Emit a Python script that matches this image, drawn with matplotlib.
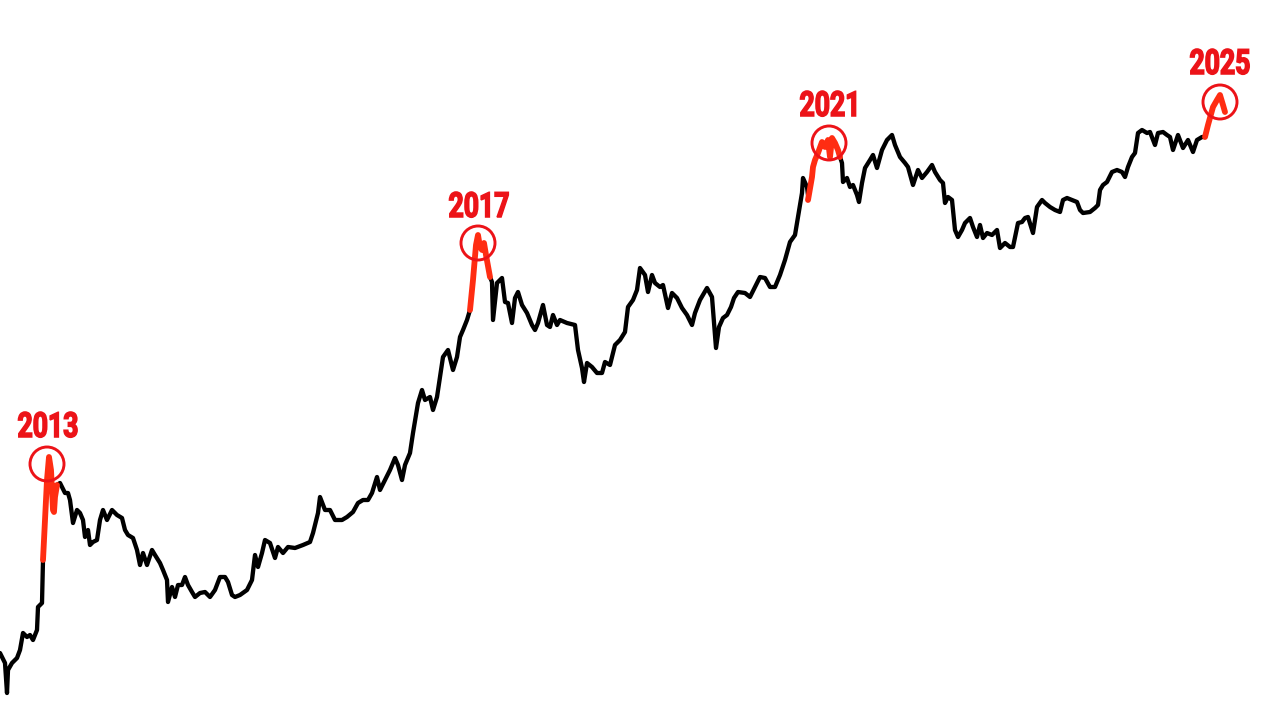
import matplotlib
matplotlib.use("Agg")
import matplotlib.pyplot as plt
from matplotlib.patches import Circle
from matplotlib.patheffects import AbstractPathEffect
from matplotlib.transforms import Affine2D

# ---- data (x = time position, y = screen level, smaller = higher price) ----
x_black1 = [0, 2, 5, 7, 8, 12, 17, 20, 23, 27, 30, 33, 37, 38, 42, 43]
y_black1 = [653, 657, 663, 693, 670, 663, 658, 650, 633, 637, 635, 640, 630, 607, 603, 560]

x_red2013 = [43, 45, 47, 49, 51, 53, 54, 55, 57]
y_red2013 = [560, 520, 480, 457, 470, 510, 512, 497, 485]

x_black2 = [57, 60, 65, 68, 70, 73, 77, 80, 83, 85, 88, 90, 93, 97, 100, 103, 107, 112, 117, 122,
            125, 128, 133, 137, 140, 143, 147, 152, 155, 160, 163, 167, 168, 172, 175, 178, 182, 185,
            188, 192, 195, 200, 205, 210, 215, 220, 225, 228, 232, 235, 240, 247, 252, 255, 258, 262,
            265, 270, 275, 278, 283, 288, 295, 303, 310, 313, 318, 320, 325, 330, 335, 342, 347, 353,
            358, 363, 368, 372, 377, 380, 385, 390, 395, 398, 402, 405, 410, 413, 418, 422, 425, 430,
            433, 437, 440, 443, 448, 453, 457, 460, 463, 467, 470]
y_black2 = [485, 483, 493, 493, 500, 523, 510, 513, 520, 537, 530, 545, 542, 540, 520, 510, 520, 510, 515, 518,
            530, 535, 538, 550, 565, 553, 565, 550, 555, 563, 570, 580, 602, 587, 597, 585, 585, 577,
            585, 592, 597, 593, 592, 597, 590, 577, 577, 582, 595, 597, 595, 590, 580, 555, 567, 553,
            540, 543, 558, 547, 553, 547, 548, 545, 542, 533, 513, 497, 510, 510, 520, 520, 517, 512,
            503, 500, 500, 493, 477, 490, 480, 470, 458, 465, 480, 465, 453, 433, 403, 390, 400, 397,
            410, 397, 377, 357, 350, 370, 357, 337, 330, 320, 310]

x_red2017 = [470, 473, 476, 478, 480, 482, 484, 486, 490]
y_red2017 = [310, 280, 245, 235, 247, 250, 243, 255, 277]

x_black3 = [490, 492, 493, 497, 500, 502, 505, 508, 512, 515, 518, 522, 527, 532, 535, 538, 543, 547, 550,
            553, 557, 560, 567, 575, 578, 582, 584, 587, 592, 597, 602, 605, 610, 615, 620, 625, 628,
            633, 637, 640, 645, 648, 652, 655, 660, 663, 668, 672, 677, 682, 687, 692, 695, 700, 707,
            712, 716, 719, 723, 727, 731, 734, 738, 745, 750, 755, 760, 765, 770, 775, 780, 785, 790,
            795, 798, 802, 803, 807, 808]
y_black3 = [277, 282, 320, 283, 280, 278, 302, 303, 323, 298, 292, 305, 313, 325, 330, 323, 305, 325, 327,
            315, 325, 320, 323, 325, 350, 368, 382, 363, 367, 373, 373, 362, 365, 345, 340, 332, 307,
            300, 290, 268, 275, 292, 275, 283, 287, 285, 308, 293, 298, 308, 315, 325, 313, 300, 288,
            297, 348, 327, 318, 315, 307, 298, 292, 293, 297, 287, 277, 278, 287, 287, 275, 260, 242,
            235, 217, 193, 178, 187, 195]

x_red2021 = [808, 812, 813, 815, 818, 822, 825, 828, 830, 832, 835, 838, 840]
y_red2021 = [200, 177, 167, 160, 153, 142, 147, 140, 157, 138, 143, 150, 157]

x_black4 = [840, 842, 843, 847, 850, 853, 857, 859, 862, 865, 870, 873, 877, 882, 887, 892, 895, 900, 905,
            908, 913, 918, 922, 927, 932, 935, 940, 943, 945, 948, 952, 955, 958, 962, 965, 970, 973,
            977, 980, 983, 987, 992, 997, 1000, 1005, 1010, 1013, 1018, 1022, 1025, 1028, 1033, 1037,
            1042, 1045, 1050, 1055, 1060, 1063, 1067, 1072, 1077, 1080, 1083, 1090, 1095, 1098, 1100,
            1103, 1107, 1112, 1117, 1122, 1125, 1128, 1132, 1135, 1138, 1142, 1147, 1150, 1155, 1158,
            1163, 1167, 1170, 1173, 1178, 1183, 1188, 1193, 1197, 1202, 1205]
y_black4 = [157, 163, 182, 178, 187, 185, 195, 202, 183, 168, 160, 155, 168, 150, 140, 135, 145, 157, 163,
            167, 185, 170, 178, 172, 165, 172, 180, 183, 203, 197, 200, 230, 237, 230, 223, 218, 227,
            237, 225, 238, 233, 235, 230, 248, 243, 247, 247, 223, 222, 218, 217, 233, 207,
            200, 203, 207, 210, 212, 200, 198, 200, 202, 210, 213, 212, 208, 205, 190,
            185, 182, 172, 170, 172, 177, 167, 157, 153, 133, 130, 133, 132, 145, 133,
            132, 135, 137, 150, 135, 148, 140, 152, 140, 137, 137]

x_red2025 = [1205, 1208, 1213, 1217, 1220, 1223, 1225]
y_red2025 = [137, 125, 107, 100, 95, 105, 112]

peak_labels = ["2013", "2017", "2021", "2025"]
peak_x = [47, 478, 829, 1220]
peak_y = [464, 243, 143, 102]
label_x = [48, 479, 830, 1220]
label_baseline = [437, 217, 116, 74]
label_width = 61  # target rendered width of the labels (condensed face)

# ---- styling ----
BLACK = "#000000"
RED_LINE = "#ff2d12"
RED = "#ec1318"


class HCondense(AbstractPathEffect):
    """Draws the glyphs horizontally condensed around the text anchor, slightly emboldened."""

    def __init__(self, ax, x_data, sx, stroke=1.1):
        super().__init__()
        self.ax = ax
        self.x_data = x_data
        self.sx = sx
        self.stroke = stroke

    def draw_path(self, renderer, gc, tpath, affine, rgbFace=None):
        cx = self.ax.transData.transform((self.x_data, 0))[0]
        aff = affine + Affine2D().translate(-cx, 0).scale(self.sx, 1.0).translate(cx, 0)
        gc0 = renderer.new_gc()
        gc0.copy_properties(gc)
        gc0.set_linewidth(self.stroke)
        gc0.set_foreground(rgbFace)
        gc0.set_joinstyle("miter")
        renderer.draw_path(gc0, tpath, aff, rgbFace)
        gc0.restore()


fig = plt.figure(figsize=(12.8, 7.2), dpi=100)
fig.patch.set_facecolor("white")
ax = fig.add_axes([0, 0, 1, 1])
ax.set_xlim(0, 1280)
ax.set_ylim(720, 0)
ax.axis("off")

lw_black = 3.1
lw_red = 4.2
for xs, ys in [(x_black1, y_black1), (x_black2, y_black2), (x_black3, y_black3), (x_black4, y_black4)]:
    ax.plot(xs, ys, color=BLACK, lw=lw_black, solid_joinstyle="round", solid_capstyle="round", zorder=2)
for xs, ys in [(x_red2013, y_red2013), (x_red2017, y_red2017), (x_red2021, y_red2021), (x_red2025, y_red2025)]:
    ax.plot(xs, ys, color=RED_LINE, lw=lw_red, solid_joinstyle="round", solid_capstyle="round", zorder=3)

texts = []
for lab, px, py, lx, lb in zip(peak_labels, peak_x, peak_y, label_x, label_baseline):
    ax.add_patch(Circle((px, py), 17, fill=False, edgecolor=RED, lw=2.1, zorder=4))
    t = ax.text(lx, lb, lab, color=RED, fontsize=25, fontweight="bold",
                family=["Roboto", "DejaVu Sans"], ha="center", va="baseline", zorder=5)
    texts.append((t, lx))

fig.canvas.draw()
rend = fig.canvas.get_renderer()
for t, lx in texts:
    w = t.get_window_extent(renderer=rend).width
    sx = min(1.0, label_width / w) if w > 0 else 1.0
    t.set_path_effects([HCondense(ax, lx, sx)])

fig.savefig("out.png", dpi=100, facecolor="white")
